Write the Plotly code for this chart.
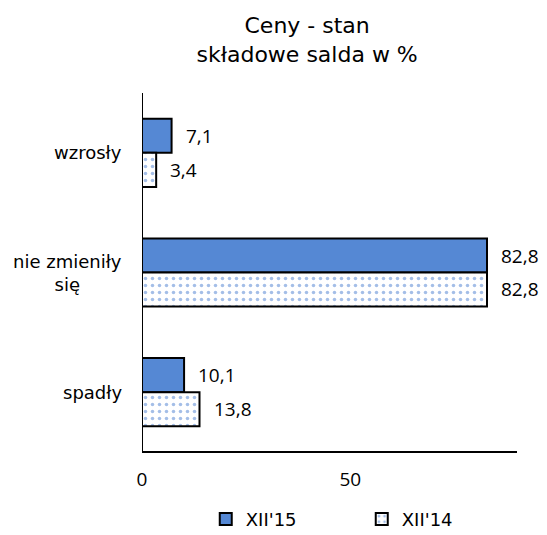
import plotly.graph_objects as go

categories = ["wzrosły", "nie zmieniły<br>się", "spadły"]
xii15 = [7.1, 82.8, 10.1]
xii14 = [3.4, 82.8, 13.8]
series_names = ["XII'15", "XII'14"]
x_ticks = [0, 50]

FONT = "DejaVu Sans, sans-serif"
NUM_FONT = "Open Sans, sans-serif"
BLUE = '#5588d4'


def fmt(v):
    return f"{v:.1f}".replace('.', ',')


fig = go.Figure()
fig.add_trace(go.Bar(
    y=categories, x=xii15, orientation='h', name=series_names[0],
    marker=dict(color=BLUE, line=dict(color='black', width=2)),
))
fig.add_trace(go.Bar(
    y=categories, x=xii14, orientation='h', name=series_names[1],
    marker=dict(color='white', line=dict(color='black', width=2),
                pattern=dict(shape='.', fgcolor='#4a7ed0', bgcolor='white',
                             size=7, solidity=0.2)),
))

# value labels to the right of each bar
for vals, off in [(xii15, -0.14), (xii14, 0.14)]:
    for i, v in enumerate(vals):
        fig.add_annotation(
            x=v, y=i + off, text=fmt(v), showarrow=False,
            xanchor='left', xshift=12, yref='y',
            font=dict(size=19, color='black', family=NUM_FONT),
        )

# category labels (right aligned block, lines centred inside)
for i, c in enumerate(categories):
    fig.add_annotation(
        x=0, xref='paper', xanchor='right', xshift=-18, y=i, yref='y',
        text=c, align='center', showarrow=False,
        font=dict(size=18, color='black', family=FONT),
    )

# page has an 8px body margin, so the figure is 8px smaller than the window
fig.update_layout(
    width=539, height=527,
    barmode='group', bargap=0.43, bargroupgap=0,
    paper_bgcolor='white', plot_bgcolor='white',
    font=dict(family=FONT, size=18, color='black'),
    title=dict(text="Ceny - stan<br>składowe salda w %", x=0.555, xanchor='center',
               y=0.952, yanchor='top', font=dict(size=22, family=FONT)),
    xaxis=dict(range=[0, 90], tickvals=x_ticks, showgrid=False, zeroline=False,
               showline=False, ticks='', automargin=False, ticklabelstandoff=14,
               tickfont=dict(size=19, family=NUM_FONT)),
    yaxis=dict(autorange='reversed', showgrid=False, ticks='', showline=False,
               showticklabels=False, automargin=False),
    legend=dict(orientation='h', x=0.17, xanchor='left',
                yref='container', y=0.03, yanchor='middle',
                font=dict(size=18, family=FONT), itemwidth=30,
                entrywidth=111, entrywidthmode='pixels'),
    margin=dict(l=134, r=30, t=85, b=83),
    shapes=[
        dict(type='line', xref='x', yref='paper', x0=0, x1=0, y0=0, y1=1,
             line=dict(color='black', width=2)),
        dict(type='line', xref='paper', yref='paper', x0=0, x1=1, y0=0, y1=0,
             line=dict(color='black', width=2)),
    ],
)

fig.write_html("out.html")
